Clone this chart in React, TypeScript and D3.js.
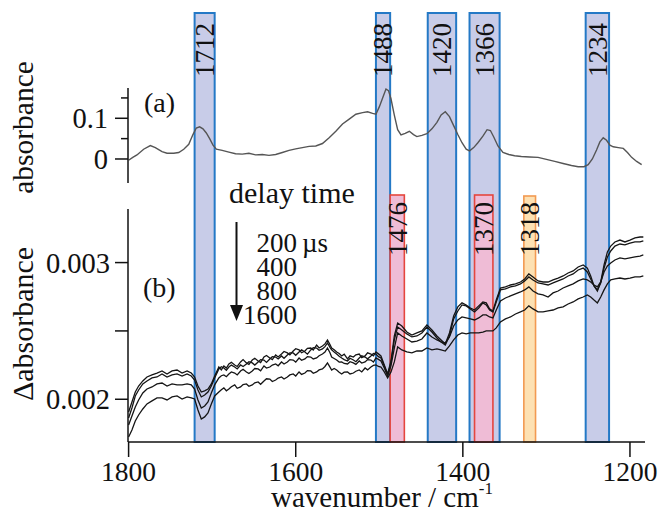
import React from 'react';
import * as d3 from 'd3';

// (a) ground-state absorbance spectrum
const WN_A = [
  1800, 1795, 1790, 1782, 1774, 1768, 1760, 1754, 1746, 1740, 1734, 1728, 1723, 1719, 1715, 1711,
  1707, 1703, 1699, 1695, 1688, 1680, 1672, 1664, 1656, 1648, 1640, 1632, 1624, 1616, 1608, 1600,
  1592, 1584, 1576, 1568, 1560, 1552, 1544, 1536, 1528, 1520, 1514, 1508, 1504, 1500, 1496, 1492,
  1489, 1486, 1482, 1478, 1474, 1469, 1464, 1459, 1455, 1449, 1443, 1437, 1431, 1426, 1421, 1416,
  1411, 1406, 1401, 1396, 1392, 1387, 1382, 1376, 1371, 1367, 1363, 1358, 1352, 1345, 1338, 1330,
  1320, 1310, 1300, 1290, 1280, 1270, 1262, 1255, 1250, 1245, 1240, 1236, 1232, 1228, 1224, 1220,
  1214, 1208, 1203, 1198, 1192, 1186,
];
const ABS_A = [
  -0.003, 0.004, 0.01, 0.024, 0.033, 0.028, 0.018, 0.014, 0.014, 0.016, 0.024, 0.036, 0.06, 0.076, 0.079, 0.074,
  0.064, 0.05, 0.034, 0.024, 0.021, 0.017, 0.013, 0.012, 0.014, 0.01, 0.011, 0.009, 0.011, 0.016, 0.021, 0.025,
  0.028, 0.031, 0.032, 0.038, 0.052, 0.068, 0.086, 0.098, 0.11, 0.114, 0.116, 0.112, 0.11, 0.128, 0.15, 0.172,
  0.168, 0.148, 0.108, 0.072, 0.059, 0.063, 0.068, 0.06, 0.055, 0.058, 0.062, 0.074, 0.09, 0.108, 0.116, 0.104,
  0.082, 0.06, 0.04, 0.024, 0.02, 0.028, 0.04, 0.056, 0.072, 0.07, 0.054, 0.032, 0.016, 0.011, 0.008, 0.006,
  0.005, 0.004, -0.001, -0.006, -0.011, -0.016, -0.019, -0.019, -0.014, 0.0, 0.022, 0.042, 0.052, 0.046, 0.034, 0.03,
  0.028, 0.026, 0.016, 0.004, -0.006, -0.014,
];

// (b) transient difference spectra, values in units of 1e-3
const WN_B = [
  1800, 1796, 1792, 1788, 1783, 1778, 1772, 1766, 1760, 1754,
  1748, 1742, 1736, 1730, 1725, 1721, 1717, 1713, 1709, 1705,
  1701, 1697,
  1692, 1689, 1686, 1683, 1680, 1677, 1673, 1670, 1666, 1663,
  1659, 1656, 1652, 1649, 1645, 1642, 1638, 1635, 1631, 1628,
  1624, 1621, 1617, 1614, 1610, 1607, 1603, 1600, 1596, 1593,
  1589, 1586, 1582, 1579, 1575, 1572, 1568, 1565, 1562, 1559,
  1557, 1554, 1551, 1548, 1545, 1542, 1538, 1535, 1531, 1528,
  1524, 1521, 1517, 1514, 1510, 1507, 1504, 1501, 1498,
  1494, 1490, 1486, 1482, 1478, 1473, 1467, 1461,
  1455, 1449, 1443, 1437, 1431, 1426, 1421, 1416, 1411, 1406,
  1401, 1396, 1391, 1386, 1381, 1376, 1372, 1368, 1364, 1360,
  1355, 1349, 1343, 1337, 1331, 1326, 1321, 1316, 1310, 1304,
  1298, 1292, 1286, 1280, 1274, 1268, 1262, 1256, 1251, 1247,
  1243, 1239, 1235, 1231, 1227, 1223, 1218, 1212, 1206, 1200,
  1194, 1188, 1184,
];
const D200 = [
  1.907, 1.98, 2.053, 2.097, 2.134, 2.163, 2.178, 2.192, 2.207, 2.185,
  2.207, 2.214, 2.192, 2.207, 2.192, 2.163, 2.097, 2.053, 2.061, 2.075,
  2.112, 2.17,
  2.236, 2.215, 2.244, 2.228, 2.258, 2.27, 2.251, 2.24, 2.273, 2.29,
  2.266, 2.255, 2.287, 2.3, 2.28, 2.268, 2.309, 2.32, 2.302, 2.29,
  2.324, 2.31, 2.331, 2.35, 2.339, 2.325, 2.353, 2.37, 2.361, 2.34,
  2.353, 2.372, 2.375, 2.36, 2.397, 2.375, 2.39, 2.405, 2.434, 2.4,
  2.375, 2.362, 2.346, 2.335, 2.317, 2.33, 2.295, 2.318, 2.309, 2.325,
  2.331, 2.305, 2.317, 2.34, 2.331, 2.318, 2.346, 2.332, 2.317,
  2.251, 2.185, 2.28, 2.463, 2.558, 2.536, 2.492, 2.47,
  2.485, 2.5, 2.544, 2.507, 2.463, 2.434, 2.405, 2.485, 2.61, 2.676,
  2.705, 2.69, 2.668, 2.653, 2.683, 2.712, 2.705, 2.661, 2.646, 2.726,
  2.814, 2.822, 2.836, 2.844, 2.858, 2.88, 2.917, 2.895, 2.866, 2.858,
  2.858, 2.873, 2.887, 2.902, 2.924, 2.939, 2.968, 2.983, 2.96, 2.902,
  2.829, 2.792, 2.858, 2.983, 3.078, 3.121, 3.151, 3.165, 3.151, 3.165,
  3.18, 3.187, 3.187,
];
const D400 = [
  1.863, 1.936, 2.024, 2.068, 2.112, 2.134, 2.156, 2.163, 2.185, 2.163,
  2.178, 2.185, 2.17, 2.185, 2.17, 2.141, 2.068, 2.017, 2.031, 2.053,
  2.097, 2.156,
  2.222, 2.238, 2.229, 2.212, 2.236, 2.25, 2.236, 2.222, 2.251, 2.24,
  2.258, 2.275, 2.266, 2.25, 2.273, 2.29, 2.287, 2.27, 2.295, 2.312,
  2.309, 2.295, 2.317, 2.3, 2.324, 2.34, 2.339, 2.322, 2.346, 2.362,
  2.346, 2.33, 2.361, 2.378, 2.375, 2.358, 2.368, 2.385, 2.412, 2.38,
  2.361, 2.345, 2.331, 2.315, 2.302, 2.29, 2.28, 2.3, 2.287, 2.275,
  2.302, 2.318, 2.309, 2.296, 2.317, 2.335, 2.331, 2.312, 2.302,
  2.244, 2.178, 2.266, 2.434, 2.529, 2.507, 2.478, 2.456,
  2.463, 2.485, 2.529, 2.492, 2.448, 2.419, 2.397, 2.463, 2.588, 2.646,
  2.69, 2.683, 2.661, 2.639, 2.668, 2.705, 2.69, 2.653, 2.639, 2.712,
  2.8, 2.807, 2.822, 2.829, 2.844, 2.866, 2.895, 2.873, 2.851, 2.844,
  2.836, 2.851, 2.866, 2.88, 2.902, 2.917, 2.946, 2.96, 2.931, 2.88,
  2.829, 2.8, 2.851, 2.96, 3.041, 3.085, 3.121, 3.136, 3.129, 3.143,
  3.151, 3.151, 3.158,
];
const D800 = [
  1.812, 1.878, 1.944, 1.995, 2.046, 2.075, 2.09, 2.112, 2.119, 2.097,
  2.112, 2.105, 2.105, 2.112, 2.105, 2.075, 1.995, 1.936, 1.951, 1.98,
  2.046, 2.105,
  2.156, 2.172, 2.178, 2.165, 2.185, 2.2, 2.192, 2.178, 2.207, 2.22,
  2.2, 2.188, 2.207, 2.225, 2.222, 2.208, 2.244, 2.228, 2.236, 2.25,
  2.258, 2.245, 2.273, 2.258, 2.273, 2.29, 2.287, 2.272, 2.302, 2.285,
  2.295, 2.312, 2.309, 2.295, 2.302, 2.318, 2.331, 2.345, 2.375, 2.34,
  2.309, 2.298, 2.287, 2.272, 2.273, 2.262, 2.258, 2.275, 2.266, 2.255,
  2.28, 2.265, 2.273, 2.29, 2.287, 2.272, 2.302, 2.292, 2.28,
  2.229, 2.17, 2.244, 2.375, 2.485, 2.463, 2.441, 2.419,
  2.426, 2.441, 2.485, 2.456, 2.434, 2.419, 2.412, 2.456, 2.536, 2.58,
  2.602, 2.595, 2.588, 2.58, 2.595, 2.617, 2.617, 2.602, 2.595, 2.653,
  2.719, 2.741, 2.756, 2.771, 2.785, 2.8, 2.822, 2.792, 2.771, 2.763,
  2.748, 2.778, 2.792, 2.814, 2.829, 2.844, 2.866, 2.88, 2.873, 2.858,
  2.836, 2.822, 2.858, 2.931, 2.975, 2.997, 3.019, 3.034, 3.027, 3.034,
  3.041, 3.048, 3.056,
];
const D1600 = [
  1.724, 1.775, 1.841, 1.885, 1.929, 1.966, 1.988, 2.01, 2.01, 1.995,
  2.017, 2.024, 2.002, 2.017, 2.01, 2.002, 1.922, 1.856, 1.871, 1.9,
  1.966, 2.024,
  2.053, 2.07, 2.083, 2.062, 2.075, 2.092, 2.105, 2.08, 2.09, 2.108,
  2.112, 2.095, 2.105, 2.12, 2.127, 2.11, 2.134, 2.15, 2.148, 2.13,
  2.141, 2.155, 2.163, 2.148, 2.163, 2.178, 2.185, 2.17, 2.2, 2.182,
  2.192, 2.21, 2.207, 2.19, 2.2, 2.215, 2.222, 2.24, 2.266, 2.235,
  2.214, 2.225, 2.214, 2.198, 2.185, 2.198, 2.2, 2.185, 2.192, 2.205,
  2.214, 2.2, 2.229, 2.215, 2.236, 2.248, 2.251, 2.24, 2.236,
  2.2, 2.156, 2.2, 2.273, 2.383, 2.361, 2.346, 2.339,
  2.353, 2.353, 2.375, 2.361, 2.368, 2.361, 2.353, 2.39, 2.434, 2.47,
  2.485, 2.478, 2.485, 2.485, 2.485, 2.492, 2.5, 2.5, 2.5, 2.522,
  2.566, 2.588, 2.602, 2.624, 2.639, 2.653, 2.683, 2.661, 2.639, 2.639,
  2.646, 2.653, 2.668, 2.676, 2.697, 2.712, 2.734, 2.748, 2.763, 2.748,
  2.726, 2.705, 2.748, 2.8, 2.844, 2.873, 2.88, 2.887, 2.88, 2.887,
  2.895, 2.895, 2.902,
];
const SERIES_B = [D200, D400, D800, D1600];
const DELAYS = ['200', '400', '800', '1600'];

// highlighted bands (wavenumber ranges)
const BLUE_BANDS = [
  { label: '1712', from: 1721, to: 1697 },
  { label: '1488', from: 1504, to: 1487 },
  { label: '1420', from: 1442, to: 1408 },
  { label: '1366', from: 1392, to: 1356 },
  { label: '1234', from: 1253, to: 1225 },
];
const RED_BANDS = [
  { label: '1476', from: 1487, to: 1470 },
  { label: '1370', from: 1386, to: 1364 },
];
const ORANGE_BANDS = [{ label: '1318', from: 1327, to: 1313 }];

const X_TICKS = [1800, 1600, 1400, 1200];
const A_MAJOR = [0, 0.1];
const A_MAJOR_LABELS = ['0', '0.1'];
const A_MINOR = [0.05, 0.15];
const B_TICKS = [2, 2.5, 3];
const B_TICK_LABELS = ['0.002', '', '0.003'];

const FONT = "'Liberation Serif', 'Times New Roman', Times, 'DejaVu Serif', serif";
const T = { fontFamily: FONT, fill: '#111' };

export default function App() {
  const x = d3.scaleLinear().domain([1800, 1182]).range([128.6, 645]);
  const yA = d3.scaleLinear().domain([-0.059, 0.1744]).range([183, 88]);
  const yB = d3.scaleLinear().domain([1.691, 3.392]).range([441.5, 209]);

  const lineA = d3
    .line<number>()
    .x((_, i) => x(WN_A[i]))
    .y((d) => yA(d));
  const lineB = d3
    .line<number>()
    .x((_, i) => x(WN_B[i]))
    .y((d) => yB(d));

  const axisX = 128;
  const axisY = 442;

  const band = (
    b: { label: string; from: number; to: number },
    top: number,
    fill: string,
    stroke: string,
    sw: number,
    labelStart: number
  ) => {
    const x0 = x(b.from);
    const x1 = x(b.to);
    const cx = (x0 + x1) / 2;
    return (
      <g key={b.label}>
        <rect x={x0} y={top} width={x1 - x0} height={axisY - top} fill={fill} stroke={stroke} strokeWidth={sw} />
        <text
          transform={`translate(${cx},${labelStart}) rotate(-90)`}
          dy="0.35em"
          style={{ ...T, fontSize: 27 }}
        >
          {b.label}
        </text>
      </g>
    );
  };

  return (
    <svg
      width={658}
      height={514}
      style={{ position: 'absolute', left: 0, top: 0, background: '#fff', fontFamily: FONT }}
    >
      {BLUE_BANDS.map((b) => band(b, 13, '#c8cce8', '#2479c6', 2, 77))}
      {RED_BANDS.map((b) => band(b, 195, '#efbcd6', '#e5463e', 1.6, 256))}
      {ORANGE_BANDS.map((b) => band(b, 196, '#fde1b3', '#f29a52', 1.6, 256))}

      <path d={lineA(ABS_A) || ''} fill="none" stroke="#555" strokeWidth={1.4} />
      {SERIES_B.map((s, i) => (
        <path key={DELAYS[i]} d={lineB(s) || ''} fill="none" stroke="#151515" strokeWidth={1.3} />
      ))}

      {/* panel (a) axis */}
      <line x1={axisX} x2={axisX} y1={yA.range()[1]} y2={yA.range()[0]} stroke="#111" strokeWidth={1.5} />
      {A_MAJOR.map((t, i) => (
        <g key={t}>
          <line x1={axisX - 13} x2={axisX} y1={yA(t)} y2={yA(t)} stroke="#111" strokeWidth={1.5} />
          <text x={108} y={yA(t)} dy="0.35em" textAnchor="end" style={{ ...T, fontSize: 28.5 }}>
            {A_MAJOR_LABELS[i]}
          </text>
        </g>
      ))}
      {A_MINOR.map((t) => (
        <line key={t} x1={axisX - 7} x2={axisX} y1={yA(t)} y2={yA(t)} stroke="#111" strokeWidth={1.5} />
      ))}

      {/* panel (b) axis */}
      <line x1={axisX} x2={axisX} y1={yB.range()[1]} y2={axisY} stroke="#111" strokeWidth={1.5} />
      {B_TICKS.map((t, i) => (
        <g key={t}>
          <line x1={axisX - 13} x2={axisX} y1={yB(t)} y2={yB(t)} stroke="#111" strokeWidth={1.5} />
          <text x={110} y={yB(t)} dy="0.35em" textAnchor="end" style={{ ...T, fontSize: 28.5 }}>
            {B_TICK_LABELS[i]}
          </text>
        </g>
      ))}

      {/* x axis */}
      <line x1={axisX} x2={x.range()[1]} y1={axisY} y2={axisY} stroke="#111" strokeWidth={1.5} />
      {X_TICKS.map((t) => (
        <g key={t}>
          <line x1={x(t)} x2={x(t)} y1={axisY} y2={axisY + 15} stroke="#111" strokeWidth={1.5} />
          <text x={x(t)} y={481} textAnchor="middle" style={{ ...T, fontSize: 27.5 }}>
            {t}
          </text>
        </g>
      ))}
      <text x={382} y={507} textAnchor="middle" style={{ ...T, fontSize: 29 }}>
        wavenumber / cm
        <tspan style={{ fontSize: 17 }} dy={-13}>
          -1
        </tspan>
      </text>

      {/* axis titles */}
      <text transform="translate(33,127.5) rotate(-90)" textAnchor="middle" style={{ ...T, fontSize: 29.5 }}>
        absorbance
      </text>
      <text transform="translate(33,324) rotate(-90)" textAnchor="middle" style={{ ...T, fontSize: 30 }}>
        Δabsorbance
      </text>

      <text x={144} y={111.5} style={{ ...T, fontSize: 28 }}>
        (a)
      </text>
      <text x={143} y={297} style={{ ...T, fontSize: 28 }}>
        (b)
      </text>

      {/* delay-time legend */}
      <text x={229} y={203} style={{ ...T, fontSize: 30 }}>
        delay time
      </text>
      <line x1={236.5} x2={236.5} y1={222} y2={306} stroke="#111" strokeWidth={2} />
      <polygon points="230,305 243,305 236.5,321" fill="#111" />
      {DELAYS.map((d, i) => (
        <text key={d} x={297} y={251.5 + i * 24} textAnchor="end" style={{ ...T, fontSize: 27 }}>
          {d}
        </text>
      ))}
      <text x={302} y={251.5} style={{ ...T, fontSize: 27 }}>
        µs
      </text>
    </svg>
  );
}
